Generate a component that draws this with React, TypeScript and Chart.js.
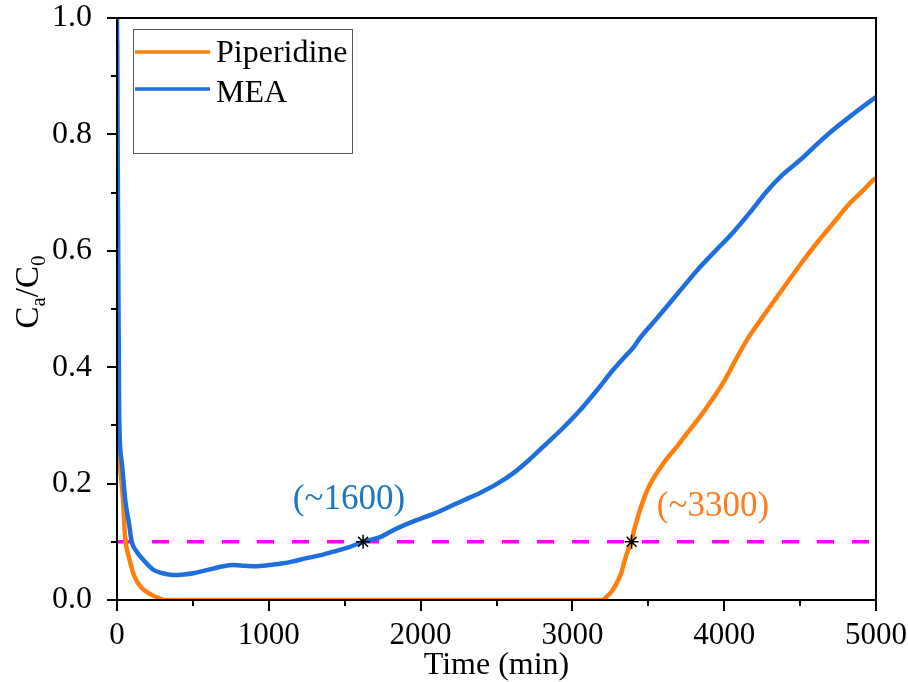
import React, { useEffect, useRef } from "react";
import { Chart, registerables } from "chart.js";

Chart.register(...registerables);

// ---- Data ----
const meaTime = [0, 8, 14, 30, 55, 80, 97, 130, 173, 239, 300, 371, 440, 503, 570, 634, 700, 766, 840, 920, 1000, 1096, 1170, 1250, 1340, 1425, 1520, 1623, 1733, 1820, 1952, 2084, 2172, 2280, 2391, 2500, 2611, 2720, 2831, 2940, 3050, 3160, 3270, 3345, 3402, 3445, 3530, 3621, 3730, 3841, 3950, 4060, 4170, 4280, 4390, 4500, 4610, 4719, 4850, 4983, 5000];
const meaValue = [1.0, 0.6, 0.32, 0.24, 0.17, 0.13, 0.1, 0.083, 0.069, 0.052, 0.046, 0.043, 0.044, 0.046, 0.05, 0.054, 0.058, 0.06, 0.059, 0.058, 0.06, 0.063, 0.067, 0.072, 0.077, 0.083, 0.09, 0.1, 0.108, 0.12, 0.135, 0.148, 0.158, 0.171, 0.184, 0.199, 0.218, 0.242, 0.269, 0.296, 0.326, 0.36, 0.396, 0.418, 0.434, 0.45, 0.476, 0.504, 0.538, 0.572, 0.602, 0.632, 0.666, 0.702, 0.732, 0.756, 0.783, 0.808, 0.835, 0.861, 0.864];

const pipTime = [0, 2, 5, 15, 40, 53, 80, 116, 165, 220, 268, 320, 3200, 3226, 3260, 3292, 3320, 3346, 3370, 3390, 3402, 3430, 3468, 3510, 3556, 3620, 3687, 3760, 3841, 3920, 3995, 4070, 4150, 4280, 4390, 4500, 4609, 4720, 4829, 4920, 4983, 5000];
const pipValue = [0.96, 0.47, 0.3, 0.24, 0.17, 0.11, 0.072, 0.04, 0.02, 0.01, 0.004, 0, 0, 0.006, 0.015, 0.029, 0.045, 0.069, 0.088, 0.1, 0.115, 0.142, 0.172, 0.198, 0.218, 0.242, 0.263, 0.288, 0.315, 0.344, 0.374, 0.41, 0.447, 0.496, 0.536, 0.576, 0.613, 0.648, 0.682, 0.705, 0.722, 0.725];

const thresholdValue = 0.1;
const thresholdRange = [0, 5000];
const markerTimes = [1621, 3390];
const annotationLabels = ["(~1600)", "(~3300)"];
const annotationTimes = [1528, 3926];
const annotationValues = [0.172, 0.16];
const seriesNames = ["Piperidine", "MEA"];
const xMajorTicks = [0, 1000, 2000, 3000, 4000, 5000];
const xMinorTicks = [500, 1500, 2500, 3500, 4500];
const yMajorTicks = [0, 0.2, 0.4, 0.6, 0.8, 1.0];
const yMinorTicks = [0.1, 0.3, 0.5, 0.7, 0.9];
const xTitle = "Time (min)";

const ORANGE = "#ff7f0e";
const BLUE = "#1e6fdd";
const MAGENTA = "#ff00ff";
const ORANGE_TEXT = "#ff7b1c";
const BLUE_TEXT = "#1a78c4";
const SERIF = "'Liberation Serif', 'Times New Roman', serif";

const decorPlugin = {
  id: "decor",
  afterDatasetsDraw(chart: any) {
    const ctx = chart.ctx as CanvasRenderingContext2D;
    const xs = chart.scales.x;
    const ys = chart.scales.y;
    ctx.save();
    ctx.font = `35px ${SERIF}`;
    ctx.textAlign = "center";
    ctx.textBaseline = "middle";
    const annColors = [BLUE_TEXT, ORANGE_TEXT];
    annotationLabels.forEach((lab, i) => {
      ctx.fillStyle = annColors[i];
      ctx.fillText(lab, xs.getPixelForValue(annotationTimes[i]), ys.getPixelForValue(annotationValues[i]));
    });
    ctx.restore();
  },
  afterDraw(chart: any) {
    const ctx = chart.ctx as CanvasRenderingContext2D;
    const { left, right, top, bottom } = chart.chartArea;
    const xs = chart.scales.x;
    const ys = chart.scales.y;
    ctx.save();
    // frame
    ctx.strokeStyle = "#000";
    ctx.lineWidth = 2;
    ctx.beginPath();
    ctx.rect(left, top, right - left, bottom - top);
    ctx.stroke();
    // ticks
    ctx.beginPath();
    xMajorTicks.forEach((v) => {
      const px = Math.round(xs.getPixelForValue(v));
      ctx.moveTo(px, bottom);
      ctx.lineTo(px, bottom + 11);
    });
    xMinorTicks.forEach((v) => {
      const px = Math.round(xs.getPixelForValue(v));
      ctx.moveTo(px, bottom);
      ctx.lineTo(px, bottom + 6);
    });
    yMajorTicks.forEach((v) => {
      const py = Math.round(ys.getPixelForValue(v));
      ctx.moveTo(left, py);
      ctx.lineTo(left - 10, py);
    });
    yMinorTicks.forEach((v) => {
      const py = Math.round(ys.getPixelForValue(v));
      ctx.moveTo(left, py);
      ctx.lineTo(left - 6, py);
    });
    ctx.stroke();

    // y title: C_a/C_0 rotated
    const big = 33;
    const small = 21;
    const parts = [
      { t: "C", s: big, dy: 0 },
      { t: "a", s: small, dy: 7 },
      { t: "/", s: big, dy: 0 },
      { t: "C", s: big, dy: 0 },
      { t: "0", s: small, dy: 7 },
    ];
    let total = 0;
    parts.forEach((p) => {
      ctx.font = `${p.s}px ${SERIF}`;
      total += ctx.measureText(p.t).width;
    });
    ctx.translate(38, 292);
    ctx.rotate(-Math.PI / 2);
    ctx.fillStyle = "#000";
    ctx.textAlign = "left";
    ctx.textBaseline = "alphabetic";
    let cx = -total / 2;
    parts.forEach((p) => {
      ctx.font = `${p.s}px ${SERIF}`;
      ctx.fillText(p.t, cx, p.dy);
      cx += ctx.measureText(p.t).width;
    });
    ctx.setTransform(1, 0, 0, 1, 0, 0);

    // legend
    const lx = left + 16;
    const ly = top + 11;
    ctx.strokeStyle = "#555";
    ctx.lineWidth = 1;
    ctx.strokeRect(lx + 0.5, ly + 0.5, 219, 124);
    const legColors = [ORANGE, BLUE];
    const rowY = [ly + 23, ly + 60];
    const baseY = [ly + 33, ly + 73];
    seriesNames.forEach((name, i) => {
      ctx.strokeStyle = legColors[i];
      ctx.lineWidth = 3.5;
      ctx.beginPath();
      ctx.moveTo(lx + 2, rowY[i]);
      ctx.lineTo(lx + 77, rowY[i]);
      ctx.stroke();
      ctx.fillStyle = "#000";
      ctx.font = `32px ${SERIF}`;
      ctx.textAlign = "left";
      ctx.textBaseline = "alphabetic";
      ctx.fillText(name, lx + 83, baseY[i]);
    });
    ctx.restore();
  },
};

export default function App() {
  const ref = useRef<HTMLCanvasElement>(null);
  useEffect(() => {
    if (!ref.current) return;
    const mea = meaTime.map((t, i) => ({ x: t, y: meaValue[i] }));
    const pip = pipTime.map((t, i) => ({ x: t, y: pipValue[i] }));
    const thr = thresholdRange.map((t) => ({ x: t, y: thresholdValue }));
    const stars = markerTimes.map((t) => ({ x: t, y: thresholdValue }));
    const chart = new Chart(ref.current, {
      type: "line",
      data: {
        datasets: [
          {
            label: "markers",
            data: stars,
            showLine: false,
            pointStyle: "star",
            pointRadius: 7,
            pointBorderColor: "#000",
            pointBorderWidth: 1.5,
            borderColor: "#000",
            order: 0,
          },
          {
            label: seriesNames[1],
            data: mea,
            borderColor: BLUE,
            borderWidth: 4.5,
            pointRadius: 0,
            cubicInterpolationMode: "monotone",
            order: 1,
          },
          {
            label: seriesNames[0],
            data: pip,
            borderColor: ORANGE,
            borderWidth: 4.5,
            pointRadius: 0,
            cubicInterpolationMode: "monotone",
            order: 2,
          },
          {
            label: "threshold",
            data: thr,
            borderColor: MAGENTA,
            borderWidth: 3.5,
            borderDash: [17, 18],
            pointRadius: 0,
            order: 3,
          },
        ],
      } as any,
      options: {
        animation: false,
        responsive: false,
        layout: { padding: { left: 0, right: 32, top: 18, bottom: 0 } },
        plugins: { legend: { display: false }, tooltip: { enabled: false } },
        scales: {
          x: {
            type: "linear",
            min: 0,
            max: 5000,
            grid: { display: false },
            border: { display: false },
            ticks: {
              stepSize: 1000,
              color: "#000",
              font: { family: SERIF, size: 31 },
              padding: 9,
              maxRotation: 0,
              callback: (v: any) => String(v),
            },
            title: {
              display: true,
              text: xTitle,
              color: "#000",
              font: { family: SERIF, size: 32 },
              padding: { top: 0, bottom: -3 },
            },
            afterFit: (s: any) => {
              s.height = 82;
              s.paddingLeft = 0;
              s.paddingRight = 0;
            },
          },
          y: {
            min: 0,
            max: 1,
            grid: { display: false },
            border: { display: false },
            ticks: {
              stepSize: 0.2,
              color: "#000",
              font: { family: SERIF, size: 32 },
              padding: 17,
              callback: (v: any) => Number(v).toFixed(1),
            },
            afterFit: (s: any) => {
              s.width = 117;
              s.paddingTop = 0;
              s.paddingBottom = 0;
            },
          },
        },
      },
      plugins: [decorPlugin],
    });
    return () => chart.destroy();
  }, []);
  return (
    <canvas
      ref={ref}
      width={908}
      height={682}
      style={{ position: "absolute", left: 0, top: 0, width: 908, height: 682, background: "#fff" }}
    />
  );
}
